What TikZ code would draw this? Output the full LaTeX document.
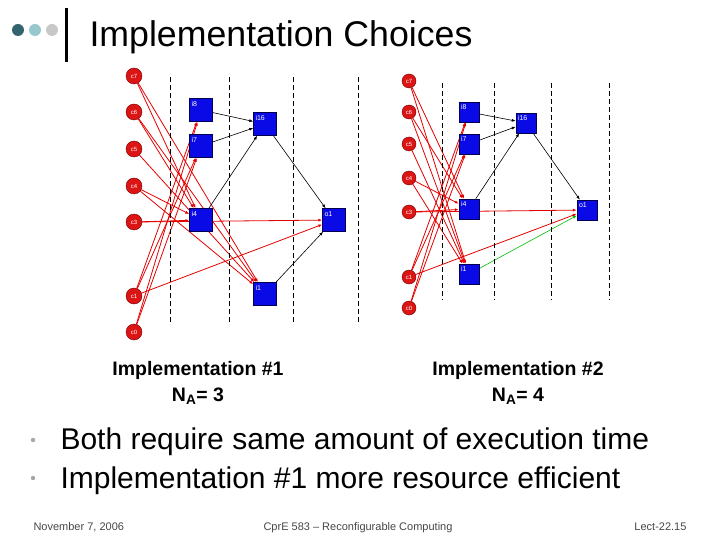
\documentclass[tikz,border=0pt]{standalone}
\usepackage{fontspec}
\setmainfont{Liberation Sans}
\usetikzlibrary{arrows.meta,backgrounds}
\definecolor{dotdark}{RGB}{52,100,110}
\definecolor{dotlight}{RGB}{150,200,205}
\definecolor{dotgray}{RGB}{200,200,200}
\definecolor{foot}{RGB}{70,70,70}
\definecolor{opblue}{RGB}{10,10,230}
\definecolor{inred}{RGB}{220,20,20}

\tikzset{
  inp/.style={circle,draw=red!45!black,fill=inred,text=white,inner sep=0pt,
    minimum size=#1,font=\fontsize{6}{6}\selectfont},
  opbig/.style={rectangle,draw=blue!30!black,fill=opblue,text=white,inner sep=2pt,
    minimum size=23pt,text width=19pt,align=left,text height=6pt,text depth=13pt,
    font=\fontsize{7}{7}\selectfont},
  opsmall/.style={opbig,minimum size=20pt,text width=16pt,text height=5.5pt,text depth=10.5pt},
  stage/.style={dash pattern=on 5pt off 3pt,line width=0.8pt},
  dep/.style={-{Latex[length=4pt,width=3pt]},line width=0.8pt,red!90!black},
  flow/.style={-{Latex[length=4pt,width=3pt]},line width=0.6pt,black},
  caption/.style={font=\bfseries\fontsize{19.5}{22}\selectfont,align=center},
  bullettext/.style={anchor=base west,font=\fontsize{30}{32}\selectfont},
  foottext/.style={anchor=base,text=foot,font=\fontsize{11}{12}\selectfont}
}

\begin{document}
\begin{tikzpicture}[x=1pt,y=-1pt,>=Latex]
  \useasboundingbox (0,0) rectangle (720,540);

  % title bar
  \fill[dotdark] (18,30) circle (6);
  \fill[dotlight] (35,30) circle (6);
  \fill[dotgray] (52,30) circle (6);
  \draw[line width=3pt] (66,8) -- (66,62);
  \node[anchor=base west,font=\fontsize{35.7}{38}\selectfont] (title) at (86,47) {Implementation Choices};

  % Left: implementation #1
  \begin{scope}
    \foreach \x in {170,229,293,358}
      \draw[stage] (\x,77) -- (\x,323);
    \node[inp=16pt] (ac7) at (134,76) {c7};
    \node[inp=16pt] (ac6) at (134,112) {c6};
    \node[inp=16pt] (ac5) at (134,149) {c5};
    \node[inp=16pt] (ac4) at (134,186) {c4};
    \node[inp=16pt] (ac3) at (134,222) {c3};
    \node[inp=16pt] (ac1) at (134,296) {c1};
    \node[inp=16pt] (ac0) at (134,332) {c0};
    \node[opbig] (ai8) at (201,110) {i8};
    \node[opbig] (ai7) at (201,146) {i7};
    \node[opbig] (ai4) at (201,220) {i4};
    \node[opbig] (ai16) at (265,124) {i16};
    \node[opbig] (ai1) at (265,294) {i1};
    \node[opbig] (ao1) at (334,220) {o1};
    \begin{pgfonlayer}{background}
      \foreach \s/\t in {c7/i4,c7/i1,c6/i4,c6/i1,c5/i1,c4/i4,c4/i1,c3/i4,c3/o1,
                         c1/i8,c1/i7,c1/o1,c0/i8,c0/i7}
        \draw[dep] (a\s) -- (a\t);
      \foreach \s/\t in {i8/i16,i7/i16,i4/i16,i16/o1,i1/o1}
        \draw[flow] (a\s) -- (a\t);
    \end{pgfonlayer}
    \node[caption] (cap1) at (198,370) {Implementation \#1};
    \node[caption] (na1) at (198,396) {N\textsubscript{A}= 3};
  \end{scope}

  % Right: implementation #2
  \begin{scope}
    \foreach \x in {442,494,551,609}
      \draw[stage] (\x,83) -- (\x,300);
    \node[inp=14pt] (bc7) at (409,81) {c7};
    \node[inp=14pt] (bc6) at (409,112) {c6};
    \node[inp=14pt] (bc5) at (409,144) {c5};
    \node[inp=14pt] (bc4) at (409,178) {c4};
    \node[inp=14pt] (bc3) at (409,212) {c3};
    \node[inp=14pt] (bc1) at (409,277) {c1};
    \node[inp=14pt] (bc0) at (409,308) {c0};
    \node[opsmall] (bi8) at (469,112) {i8};
    \node[opsmall] (bi7) at (469,144) {i7};
    \node[opsmall] (bi4) at (469,209) {i4};
    \node[opsmall] (bi1) at (469,274) {i1};
    \node[opsmall] (bi16) at (526,123) {i16};
    \node[opsmall] (bo1) at (587,210) {o1};
    \begin{pgfonlayer}{background}
      \foreach \s/\t in {c7/i4,c7/i1,c6/i4,c6/i1,c5/i1,c4/i4,c4/i1,c3/i4,c3/o1,
                         c1/i8,c1/i7,c1/o1,c0/i8,c0/i7}
        \draw[dep] (b\s) -- (b\t);
      \foreach \s/\t in {i8/i16,i7/i16,i4/i16,i16/o1}
        \draw[flow] (b\s) -- (b\t);
      % the extra operator feeds the output directly
      \draw[flow,green!75!black] (bi1) -- (bo1);
    \end{pgfonlayer}
    \node[caption] (cap2) at (518,370) {Implementation \#2};
    \node[caption] (na2) at (518,396) {N\textsubscript{A}= 4};
  \end{scope}

  % bullets
  \fill[gray!70] (33,440) circle (2.2);
  \node[bullettext] (b1) at (57,449) {Both require same amount of execution time};
  \fill[gray!70] (33,478) circle (2.2);
  \node[bullettext] (b2) at (57,488) {Implementation \#1 more resource efficient};

  % footer
  \node[foottext,anchor=base west] (date) at (30,530) {November 7, 2006};
  \node[foottext] (course) at (358,530) {CprE 583 -- Reconfigurable Computing};
  \node[foottext,anchor=base east] (lect) at (690,530) {Lect-22.15};
\end{tikzpicture}
\end{document}
